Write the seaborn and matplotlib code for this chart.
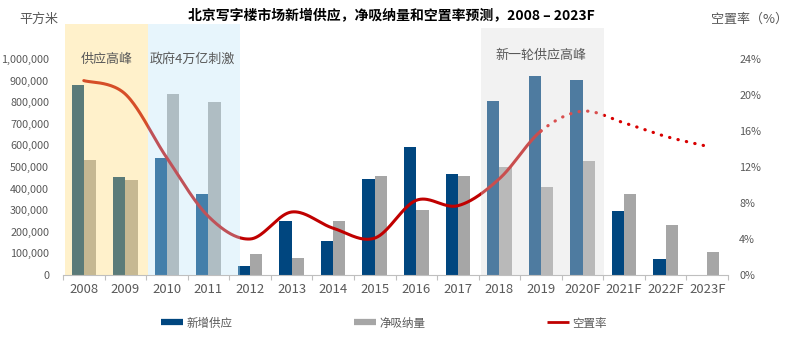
import numpy as np
import pandas as pd
import matplotlib
matplotlib.use('Agg')
import matplotlib.pyplot as plt
import seaborn as sns
from matplotlib.lines import Line2D
from matplotlib.ticker import FuncFormatter, FixedLocator

# ---------------- data ----------------
years = ['2008', '2009', '2010', '2011', '2012', '2013', '2014', '2015',
         '2016', '2017', '2018', '2019', '2020F', '2021F', '2022F', '2023F']
supply = [878000, 455000, 542000, 376000, 43000, 251000, 157000, 443000,
          593000, 466000, 804000, 921000, 903000, 295000, 73000, 0]
absorption = [532000, 438000, 839000, 802000, 97000, 77000, 250000, 460000,
              301000, 458000, 500000, 407000, 529000, 374000, 230000, 106000]
vacancy = [21.6, 20.1, 13.0, 6.5, 4.0, 7.0, 5.2, 4.1,
           8.3, 7.7, 10.7, 16.0, 18.2, 16.9, 15.4, 14.3]
series_names = ['新增供应', '净吸纳量', '空置率']
periods = ['供应高峰', '政府4万亿刺激', '新一轮供应高峰']

# ---------------- style ----------------
sns.set_theme(style='white')
plt.rcParams['font.family'] = ['Noto Sans CJK SC', 'DejaVu Sans']
TXT = '#595959'
NAVY = '#00467F'
GREY = '#A6A6A6'
RED = '#C00000'

df = pd.DataFrame({
    'year': years * 2,
    'value': supply + absorption,
    'series': [series_names[0]] * len(years) + [series_names[1]] * len(years),
})

fig = plt.figure(figsize=(8, 3.54), dpi=100)
ax = fig.add_axes([63 / 800, 79 / 354, 665 / 800, 251 / 354])

sns.barplot(data=df, x='year', y='value', hue='series', order=years,
            hue_order=series_names[:2], palette=[NAVY, GREY], width=0.59,
            saturation=1, legend=False, linewidth=0, ax=ax)

ymax_left = 1.162e6
ax.set_ylim(0, ymax_left)
ax.set_xlim(-0.5, len(years) - 0.5)
ax.set_xlabel('')
ax.set_ylabel('')
ax.set_yticks(np.arange(0, 1000001, 100000))
ax.yaxis.set_major_formatter(FuncFormatter(lambda v, p: f'{int(v):,}'))
ax.tick_params(axis='y', length=0, labelsize=7.8, labelcolor=TXT, pad=10)
ax.tick_params(axis='x', which='major', length=0, labelsize=9.4,
               labelcolor=TXT, pad=6)
ax.xaxis.set_minor_locator(FixedLocator(np.arange(-0.5, len(years), 1.0)))
ax.tick_params(axis='x', which='minor', length=3.5, width=0.8,
               color='#BFBFBF', direction='out', bottom=True)
for s in ['left', 'right', 'top']:
    ax.spines[s].set_visible(False)
ax.spines['bottom'].set_color('#BFBFBF')
ax.spines['bottom'].set_linewidth(0.8)

# ---------------- vacancy line ----------------
ax2 = ax.twinx()
ax2.set_ylim(0, ymax_left / 1e6 * 24)
ax2.set_yticks(np.arange(0, 25, 4))
ax2.yaxis.set_major_formatter(FuncFormatter(lambda v, p: f'{int(v)}%'))
ax2.tick_params(axis='y', length=0, labelsize=7.8, labelcolor=TXT, pad=8)
for s in ax2.spines.values():
    s.set_visible(False)
ax2.grid(False)
ax.grid(False)


def bezier_smooth(xs, ys, n=40):
    P = np.column_stack([xs, ys]).astype(float)
    out = []
    for i in range(len(P) - 1):
        p0, p3 = P[i], P[i + 1]
        pm = P[i - 1] if i > 0 else P[i]
        pp = P[i + 2] if i + 2 < len(P) else P[i + 1]
        c1 = p0 + (p3 - pm) / 6
        c2 = p3 - (pp - p0) / 6
        t = np.linspace(0, 1, n)[:, None]
        seg = (1 - t) ** 3 * p0 + 3 * (1 - t) ** 2 * t * c1 + \
            3 * (1 - t) * t ** 2 * c2 + t ** 3 * p3
        if i > 0:
            seg = seg[1:]
        out.append(seg)
    return np.vstack(out)


xi = np.arange(len(years))
curve = bezier_smooth(xi, vacancy)
split = years.index('2019')
solid = curve[curve[:, 0] <= split + 1e-9]
dotted = curve[curve[:, 0] >= split - 1e-9]
ax2.plot(solid[:, 0], solid[:, 1], color=RED, lw=2.2, zorder=3,
         solid_capstyle='round')
ax2.plot(dotted[:, 0], dotted[:, 1], color='#D80000', lw=2.3, zorder=3,
         linestyle=(0, (0.1, 2.6)), dash_capstyle='round')

# ---------------- translucent period overlays ----------------
ax2.axvspan(-0.45, 1.545, ymin=0, ymax=1, color=(1.0, 0.855, 0.44),
            alpha=0.36, lw=0, zorder=5)
ax2.axvspan(1.545, 3.76, ymin=0, ymax=1, color=(0.75, 0.90, 0.976),
            alpha=0.36, lw=0, zorder=5)
ax2.axvspan(9.56, 12.52, ymin=0, ymax=0.984, color=(0.86, 0.86, 0.86),
            alpha=0.36, lw=0, zorder=5)

ax2.text(0.55, 1.0 - (59 - 24) / 251, periods[0], transform=ax2.get_xaxis_transform(),
         ha='center', va='center', fontsize=9.4, color=TXT, zorder=6)
ax2.text(2.6, 1.0 - (59 - 24) / 251, periods[1], transform=ax2.get_xaxis_transform(),
         ha='center', va='center', fontsize=9.4, color=TXT, zorder=6)
ax2.text(11.0, 1.0 - (55 - 24) / 251, periods[2], transform=ax2.get_xaxis_transform(),
         ha='center', va='center', fontsize=9.4, color=TXT, zorder=6)

# ---------------- titles ----------------
fig.text(391 / 800, 1 - 16 / 354, '北京写字楼市场新增供应，净吸纳量和空置率预测，2008 – 2023F',
         ha='center', va='center', fontsize=10, fontweight='bold', color='black')
fig.text(39 / 800, 1 - 19 / 354, '平方米', ha='center', va='center',
         fontsize=9.4, color=TXT)
fig.text(750 / 800, 1 - 19 / 354, '空置率（%）', ha='center', va='center',
         fontsize=9.4, color=TXT)

# ---------------- legend ----------------
handles = [Line2D([], [], color=NAVY, lw=4.5, solid_capstyle='butt'),
           Line2D([], [], color=GREY, lw=4.5, solid_capstyle='butt'),
           Line2D([], [], color=RED, lw=2.0, solid_capstyle='butt')]
fig.legend(handles, series_names, loc='center', bbox_to_anchor=(384 / 800, 1 - 323 / 354),
           ncol=3, frameon=False, fontsize=8.3, handlelength=1.9,
           handletextpad=0.25, columnspacing=10.6, labelcolor=TXT)

fig.savefig('out.png', dpi=100)
